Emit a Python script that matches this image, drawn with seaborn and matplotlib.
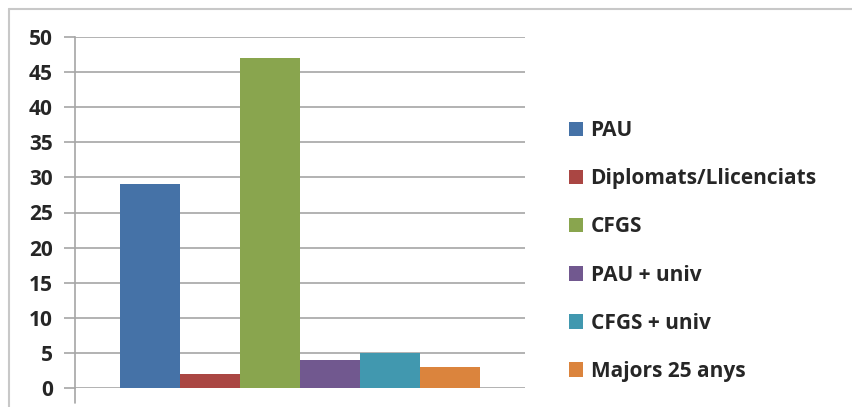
import matplotlib
matplotlib.use("Agg")
import matplotlib.pyplot as plt
import seaborn as sns
import pandas as pd
from matplotlib.lines import Line2D

series = ["PAU", "Diplomats/Llicenciats", "CFGS", "PAU + univ", "CFGS + univ", "Majors 25 anys"]
values = [29, 2, 47, 4, 5, 3]
colors = ["#4572a7", "#aa4643", "#89a54e", "#71588f", "#4198af", "#db843d"]
yticks = [0, 5, 10, 15, 20, 25, 30, 35, 40, 45, 50]

df = pd.DataFrame({"cat": ["" for _ in series], "series": series, "value": values})

sns.set_style("white")
plt.rcParams["font.family"] = ["Open Sans", "DejaVu Sans"]

fig = plt.figure(figsize=(8.53, 4.07), dpi=100)
ax = fig.add_axes([75/853, 1-388/407, 450/853, 351/407])

sns.barplot(data=df, x="cat", y="value", hue="series", palette=colors,
            hue_order=series, width=0.8, ax=ax, saturation=1, edgecolor="none")

ax.set_ylim(0, 50)
ax.set_xlim(-0.5, 0.5)
ax.set_yticks(yticks)
ax.set_yticklabels([str(t) for t in yticks], fontsize=15, fontweight="bold")
ax.set_xticks([])
ax.set_xlabel("")
ax.set_ylabel("")
ax.grid(axis="y", color="#a6a6a6", linewidth=1.2)
ax.set_axisbelow(True)
for s in ["top", "right", "bottom"]:
    ax.spines[s].set_visible(False)
ax.spines["left"].set_color("#a6a6a6")
ax.spines["left"].set_linewidth(1.2)
ax.tick_params(axis="y", length=8, color="#a6a6a6", width=1.2, pad=8, left=True)

# category tick below axis
fig.add_artist(Line2D([75/853, 75/853], [1-388/407, 1-403/407], color="#a6a6a6", lw=1.2))

# chart border
fig.add_artist(Line2D([9/853, 853/853], [1-9/407, 1-9/407], color="#c8c8c8", lw=1.5))
fig.add_artist(Line2D([9/853, 9/853], [1-9/407, 0], color="#c8c8c8", lw=1.5))

leg = ax.legend(loc="center left", bbox_to_anchor=(550/853, 1-251/407), bbox_transform=fig.transFigure,
                frameon=False, prop={"size": 15, "weight": "bold"},
                handlelength=0.7, handleheight=0.7, handletextpad=0.35, labelspacing=1.3)

fig.savefig("out.png", dpi=100)
